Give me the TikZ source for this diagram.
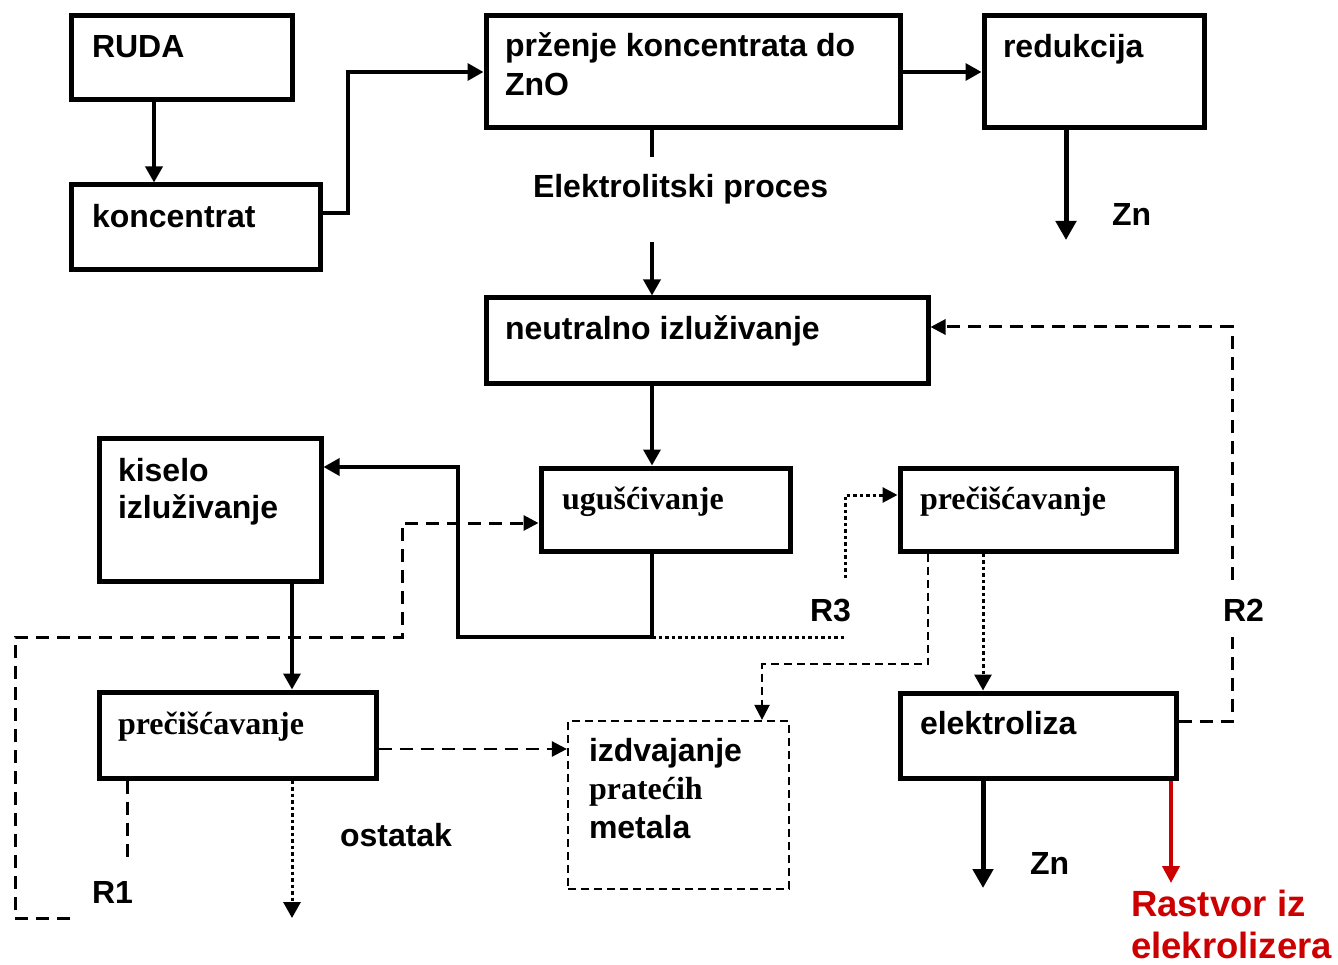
\documentclass[tikz,border=0pt]{standalone}
\usepackage{fontspec}
\setmainfont{Liberation Sans}
\newfontfamily\serifbf{Liberation Serif}
\usetikzlibrary{arrows.meta}
\definecolor{redA}{RGB}{204,0,0}
\begin{document}
\begin{tikzpicture}[x=1pt,y=-1pt,
  box/.style={draw, line width=5pt, rectangle, inner sep=0pt, outer sep=2.5pt},
  txt/.style={anchor=base west, inner sep=0pt, outer sep=0pt, align=left, font={\fontsize{32}{37}\selectfont\bfseries}},
  stxt/.style={txt, font={\fontsize{32}{37}\selectfont\serifbf\bfseries}},
  tip/.style={-{Triangle[length=16pt,width=17pt]}},
  stip/.style={-{Triangle[length=15pt,width=15pt]}},
  btip/.style={-{Triangle[length=19pt,width=20pt]}},
  conn/.style={line width=3.5pt},
  thickln/.style={line width=5pt},
  dashA/.style={line width=3pt, dash pattern=on 13pt off 8pt},
  dashB/.style={line width=2.2pt, dash pattern=on 8pt off 5pt},
  dotln/.style={line width=3pt, dash pattern=on 3.5pt off 3pt},
]
\useasboundingbox (0,0) rectangle (1338,965);

% boxes
\node[box, minimum width=221pt, minimum height=84pt]  (ruda)  at (181.5,58)   {};
\node[box, minimum width=249pt, minimum height=85pt]  (konc)  at (195.5,227.5){};
\node[box, minimum width=414pt, minimum height=112pt] (przen) at (693,72)     {};
\node[box, minimum width=220pt, minimum height=112pt] (redu)  at (1094,72)    {};
\node[box, minimum width=442pt, minimum height=85pt]  (neut)  at (707,340.5)  {};
\node[box, minimum width=249pt, minimum height=83pt]  (ugus)  at (665.5,509.5){};
\node[box, minimum width=222pt, minimum height=143pt] (kis)   at (210,509.5)  {};
\node[box, minimum width=277pt, minimum height=86pt]  (pre1)  at (237.5,735)  {};
\node[box, minimum width=276pt, minimum height=83pt]  (pre2)  at (1038,509.5) {};
\node[box, minimum width=276pt, minimum height=85pt]  (elek)  at (1038,735.5) {};
\node[draw, dashB, rectangle, inner sep=0pt, outer sep=1.1pt, minimum width=221pt, minimum height=168pt] (izd) at (678.5,805) {};

% texts (multi-line nodes: base = last line)
\node[txt] (truda) at (92,58) {RUDA};
\node[txt] (tkonc) at (92,228) {koncentrat};
\node[txt, font={\fontsize{32}{39}\selectfont\bfseries}] (tprzen) at (505,96) {prženje koncentrata do\\ZnO};
\node[txt] (tredu) at (1003,58) {redukcija};
\node[txt] (tznA) at (1112,226) {Zn};
\node[txt] (telp) at (533,198) {Elektrolitski proces};
\node[txt] (tneut) at (505,340) {neutralno izluživanje};
\node[txt] (tkis) at (118,518) {kiselo\\izluživanje};
\node[stxt] (tugus) at (562,509) {ugušćivanje};
\node[stxt] (tpre2) at (920,509) {prečišćavanje};
\node[stxt] (tpre1) at (118,734) {prečišćavanje};
\node[txt] (tost) at (340,846) {ostatak};
\node[txt] (tra) at (92,903) {R1};
\node[txt] (trc) at (810,621) {R3};
\node[txt] (trb) at (1223,621) {R2};
\node[txt, font={\fontsize{32}{38.5}\selectfont\bfseries}] (tizd) at (589,838) {izdvajanje\\{\serifbf pratećih}\\metala};
\node[txt] (telek) at (920,734) {elektroliza};
\node[txt] (tznB) at (1030,874) {Zn};
\node[txt, text=redA, font={\fontsize{36.5}{42}\selectfont\bfseries}] (trast) at (1131,958) {Rastvor iz\\elekrolizera};

% free ends
\coordinate (znA) at (1066,240);
\coordinate (e1) at (652,157);
\coordinate (e2) at (652,242);
\coordinate (rcA) at (652,637);
\coordinate (rcB) at (847,637);
\coordinate (rcC) at (845,578);
\coordinate (raA) at (127,862);
\coordinate (raB) at (70,918);
\coordinate (ostE) at (292,918);
\coordinate (rbA) at (1232,637);
\coordinate (rbB) at (1232,580);
\coordinate (znB) at (983,888);
\coordinate (rastE) at (1171,883);

% connectors
\draw[conn, tip] ([xshift=-27.5pt]ruda.south) -- ([xshift=-41.5pt]konc.north);
\draw[conn, tip] ([yshift=14.5pt]konc.east) -| (348,72) -- (przen.west);
\draw[conn, tip] (przen.east) -- (redu.west);
\draw[thickln, btip] ([xshift=-28pt]redu.south) -- (znA);
\draw[conn] ([xshift=-41pt]przen.south) -- (e1);
\draw[conn, tip] (e2) -- (e2 |- neut.north);
\draw[conn, tip] (neut.south -| e2) -- (ugus.north -| e2);
\draw[conn, tip] (ugus.south -| e2) |- (458,637) |- ([yshift=42.5pt]kis.east);
\draw[dotln] (rcA) -- (rcB);
\draw[dotln, stip] (rcC) |- ([yshift=14.5pt]pre2.west);
\draw[dashA] ([xshift=-110.5pt]pre1.south) -- (raA);
\draw[dashA, stip] (raB) -| (15,637) -| (402,523) -- ([yshift=-13.5pt]ugus.west);
\draw[conn, tip] ([xshift=82pt]kis.south) -- ([xshift=54.5pt]pre1.north);
\draw[dotln, tip] ([xshift=54.5pt]pre1.south) -- (ostE);
\draw[dashA, line width=2.5pt, stip] ([yshift=-14pt]pre1.east) -- ([yshift=56pt]izd.west);
\draw[dashB, stip] ([xshift=-110pt]pre2.south) |- (762,664) -- ([xshift=83.5pt]izd.north);
\draw[dotln, tip] ([xshift=-55pt]pre2.south) -- ([xshift=-55pt]elek.north);
\draw[dashA] ([yshift=14.5pt]elek.east) -| (rbA);
\draw[dashA, stip] (rbB) |- ([yshift=13.5pt]neut.east);
\draw[thickln, btip] ([xshift=-55pt]elek.south) -- (znB);
\draw[line width=4pt, redA, -{Triangle[length=17pt,width=17pt]}] ([xshift=133pt]elek.south) -- (rastE);
\end{tikzpicture}
\end{document}
